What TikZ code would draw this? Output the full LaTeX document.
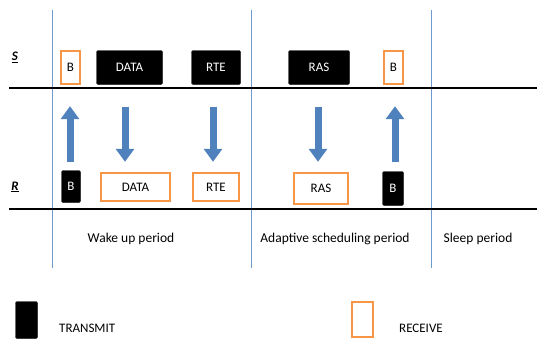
\documentclass[tikz,border=0pt]{standalone}
\usepackage{fontspec}
\setmainfont{Carlito}
\usetikzlibrary{arrows.meta}
\definecolor{recv}{HTML}{F79646}
\definecolor{arrblue}{HTML}{4F81BD}
\definecolor{linblue}{HTML}{6F9AD0}
\tikzset{
  txbox/.style={draw=black, fill=black, rounded corners=1.5pt, text=white, inner sep=0pt, font=\fontsize{13}{15}\selectfont},
  rxbox/.style={draw=recv, line width=2.4pt, fill=white, text=black, inner sep=0pt, font=\fontsize{13}{15}\selectfont},
  barrow/.style={draw=arrblue, line width=7pt, -{Triangle[length=13pt,width=18pt]}},
  period/.style={font=\fontsize{13.5}{15}\selectfont, text=black, inner sep=0pt},
  legtext/.style={font=\fontsize{13}{15}\selectfont, text=black, inner sep=0pt},
  axis/.style={draw=black, line width=1.8pt},
  sep/.style={draw=linblue, line width=0.6pt},
  rowlbl/.style={font=\bfseries\itshape\fontsize{13}{15}\selectfont, inner sep=0pt}
}
\begin{document}
\begin{tikzpicture}[x=1pt,y=-1pt]
\useasboundingbox (0,0) rectangle (537,340);
% separators
\draw[sep] (52,10) -- (52,268);
\draw[sep] (251,10) -- (251,268);
\draw[sep] (431,10) -- (431,268);
% time lines
\draw[axis] (9,88) -- (537,88);
\draw[axis] (9,209) -- (537,209);
% row labels
\node[rowlbl] (S) at (15,57) {\underline{S}};
\node[rowlbl] (R) at (15,187) {\underline{R}};
% S row
\node[rxbox, minimum width=19pt, minimum height=33pt] (sB) at (70.5,67.5) {B};
\node[txbox, minimum width=66pt, minimum height=34pt] (sDATA) at (129.5,67.5) {DATA};
\node[txbox, minimum width=49pt, minimum height=34pt] (sRTE) at (216,67.5) {RTE};
\node[txbox, minimum width=61pt, minimum height=34pt] (sRAS) at (319,67.5) {RAS};
\node[rxbox, minimum width=19pt, minimum height=33pt] (sB2) at (393.5,67.5) {B};
% R row
\node[txbox, minimum width=19pt, minimum height=32pt] (rB) at (71,186.5) {B};
\node[rxbox, minimum width=69pt, minimum height=28pt] (rDATA) at (135.5,187) {DATA};
\node[rxbox, minimum width=46pt, minimum height=28pt] (rRTE) at (216,187) {RTE};
\node[rxbox, minimum width=54pt, minimum height=31pt] (rRAS) at (321,188.5) {RAS};
\node[txbox, minimum width=21pt, minimum height=34pt] (rB2) at (393,188.5) {B};
% arrows
\draw[barrow, shorten <=8pt, shorten >=21pt] ([xshift=-1pt]rB.north) -- ([xshift=-0.5pt]sB.south);
\draw[barrow, shorten <=22pt, shorten >=10pt] ([xshift=-4.5pt]sDATA.south) -- ([xshift=-10.5pt]rDATA.north);
\draw[barrow, shorten <=22pt, shorten >=10pt] ([xshift=-3pt]sRTE.south) -- ([xshift=-3pt]rRTE.north);
\draw[barrow, shorten <=22pt, shorten >=10pt] ([xshift=-1pt]sRAS.south) -- ([xshift=-3pt]rRAS.north);
\draw[barrow, shorten <=9pt, shorten >=21pt] ([xshift=2pt]rB2.north) -- ([xshift=1.5pt]sB2.south);
% periods
\node[period] (wake) at (131,239) {Wake up period};
\node[period] (adapt) at (335,239) {Adaptive scheduling period};
\node[period] (sleep) at (478,239) {Sleep period};
% legend
\node[txbox, minimum width=22pt, minimum height=37pt] (ltx) at (26.5,320) {};
\node[legtext, anchor=west] (ltxt) at (59,328) {TRANSMIT};
\node[rxbox, minimum width=21pt, minimum height=35pt] (lrx) at (362.5,319.5) {};
\node[legtext, anchor=west] (lrxt) at (399,328) {RECEIVE};
\end{tikzpicture}
\end{document}
